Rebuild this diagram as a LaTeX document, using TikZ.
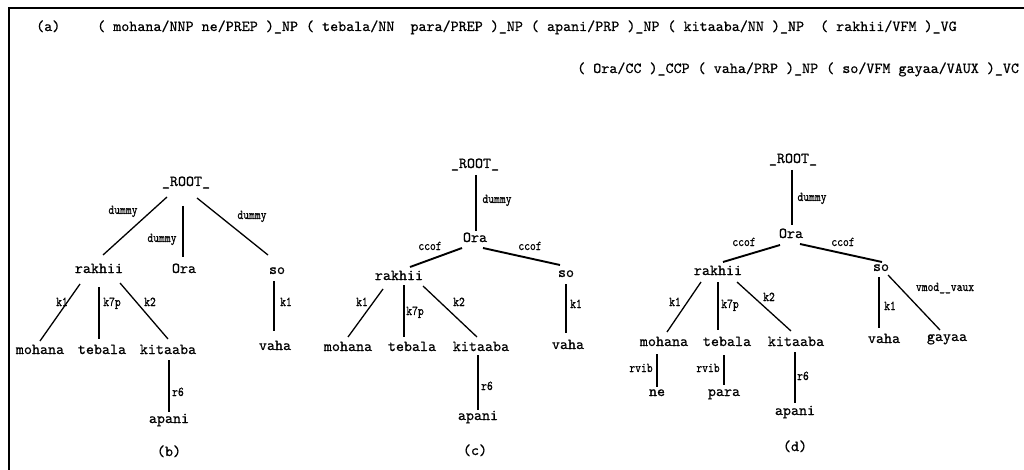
\documentclass[tikz,border=0pt]{standalone}
\usepackage{fontspec}
\newfontfamily\wordfont{lmmono10-regular.otf}[FakeBold=0.6]
\newfontfamily\labfont{lmmono10-regular.otf}[FakeBold=0.6, FakeStretch=0.82]
\usetikzlibrary{calc}
\tikzset{
  x=1pt, y=-1pt,
  word/.style={font=\fontsize{15.3}{16}\selectfont\wordfont, inner sep=0pt, text height=9pt, text depth=3pt},
  lab/.style={font=\fontsize{13.5}{14}\selectfont\labfont, inner sep=0pt, text height=8pt, text depth=2pt},
  edge/.style={line width=1.3pt},
  thick edge/.style={line width=1.9pt},
  frame/.style={line width=2.5pt}
}
\begin{document}
\begin{tikzpicture}
\useasboundingbox (0,0) rectangle (1024,470);
\clip (0,0) rectangle (1024,470);
\fill[white] (0,0) rectangle (1024,470);
\draw[frame] (9,472) -- (9,8) -- (1026,8);

% header (a)
\node[word, anchor=west] (capa) at (36,28) {(a)};
\node[word, anchor=west] (line1) at (97,28) {( mohana/NNP ne/PREP )\_NP ( tebala/NN~ para/PREP )\_NP ( apani/PRP )\_NP ( kitaaba/NN )\_NP~ ( rakhii/VFM )\_VG};
\node[word, anchor=west] (line2) at (577,70) {( Ora/CC )\_CCP ( vaha/PRP )\_NP ( so/VFM gayaa/VAUX )\_VC};

% ---------------- (b)
\node[word] (rootb) at (186,183) {\_ROOT\_};
\node[word] (rakb) at (99,270) {rakhii};
\node[word] (orab) at (184,270) {Ora};
\node[word] (sob) at (277,271) {so};
\node[word] (mohb) at (40,351) {mohana};
\node[word] (tebb) at (102,351) {tebala};
\node[word] (kitb) at (168,351) {kitaaba};
\node[word] (apab) at (169,420) {apani};
\node[word] (vahb) at (275,347) {vaha};
\node[word] (capb) at (169,453) {(b)};

\draw[edge] ($(rootb)+(-19,14)$) -- ($(rakb)+(4,-15)$);
\draw[edge] ($(rootb)+(-3,23)$) -- ($(orab)+(-1,-13)$);
\draw[edge] ($(rootb)+(11,15)$) -- ($(sob)+(-9,-16)$);
\draw[edge] ($(rakb)+(-19,14)$) -- ($(mohb)+(0,-10)$);
\draw[edge] ($(rakb)+(0,17)$) -- ($(tebb)+(-3,-12)$);
\draw[edge] ($(rakb)+(21,13)$) -- ($(kitb)+(0,-12)$);
\draw[edge] ($(kitb)+(1,9)$) -- ($(apab)+(0,-8)$);
\draw[edge] ($(sob)+(-3,10)$) -- ($(vahb)+(-1,-16)$);

\node[lab] (lb1) at (123,211) {dummy};
\node[lab] (lb2) at (162,239) {dummy};
\node[lab] (lb3) at (252,216) {dummy};
\node[lab] (lb4) at (62,303) {k1};
\node[lab] (lb5) at (112,303) {k7p};
\node[lab] (lb6) at (150,303) {k2};
\node[lab] (lb7) at (178,393) {r6};
\node[lab] (lb8) at (286,303) {k1};

% ---------------- (c)
\node[word] (rootc) at (475,165) {\_ROOT\_};
\node[word] (orac) at (475,239) {Ora};
\node[word] (rakc) at (399,277) {rakhii};
\node[word] (soc) at (566,274) {so};
\node[word] (mohc) at (348,348) {mohana};
\node[word] (tebc) at (412,348) {tebala};
\node[word] (kitc) at (481,348) {kitaaba};
\node[word] (apac) at (478,417) {apani};
\node[word] (vahc) at (568,346) {vaha};
\node[word] (capc) at (475,452) {(c)};

\draw[edge] ($(rootc)+(1,10)$) -- ($(orac)+(1,-8)$);
\draw[thick edge] ($(orac)+(-13,9)$) -- ($(rakc)+(11,-10)$);
\draw[thick edge] ($(orac)+(8,9)$) -- ($(soc)+(-6,-9)$);
\draw[edge] ($(rakc)+(-16,12)$) -- ($(mohc)+(0,-11)$);
\draw[edge] ($(rakc)+(5,8)$) -- ($(tebc)+(-8,-11)$);
\draw[edge] ($(rakc)+(24,9)$) -- ($(kitc)+(-4,-11)$);
\draw[edge] ($(kitc)+(-3,7)$) -- ($(apac)+(0,-7)$);
\draw[edge] ($(soc)+(0,10)$) -- ($(vahc)+(-2,-13)$);

\node[lab] (lc1) at (497,200) {dummy};
\node[lab] (lc2) at (430,247) {ccof};
\node[lab] (lc3) at (530,247) {ccof};
\node[lab] (lc4) at (362,303) {k1};
\node[lab] (lc5) at (415,312) {k7p};
\node[lab] (lc6) at (459,303) {k2};
\node[lab] (lc7) at (487,387) {r6};
\node[lab] (lc8) at (576,305) {k1};

% ---------------- (d)
\node[word] (rootd) at (793,160) {\_ROOT\_};
\node[word] (orad) at (791,235) {Ora};
\node[word] (rakd) at (718,272) {rakhii};
\node[word] (sod) at (881,268) {so};
\node[word] (mohd) at (664,343) {mohana};
\node[word] (tebd) at (727,343) {tebala};
\node[word] (kitd) at (796,343) {kitaaba};
\node[word] (ned) at (657,393) {ne};
\node[word] (parad) at (724,393) {para};
\node[word] (apad) at (795,412) {apani};
\node[word] (vahd) at (884,340) {vaha};
\node[word] (gayd) at (947,338) {gayaa};
\node[word] (capd) at (795,448) {(d)};

\draw[edge] ($(rootd)+(-1,10)$) -- ($(orad)+(1,-10)$);
\draw[thick edge] ($(orad)+(-11,10)$) -- ($(rakd)+(5,-10)$);
\draw[thick edge] ($(orad)+(9,9)$) -- ($(sod)+(1,-6)$);
\draw[edge] ($(rakd)+(-17,10)$) -- ($(mohd)+(3,-11)$);
\draw[edge] ($(rakd)+(0,10)$) -- ($(tebd)+(-9,-13)$);
\draw[edge] ($(rakd)+(19,10)$) -- ($(kitd)+(-5,-12)$);
\draw[edge] ($(mohd)+(-7,11)$) -- ($(ned)+(0,-6)$);
\draw[edge] ($(tebd)+(-3,12)$) -- ($(parad)+(0,-8)$);
\draw[edge] ($(kitd)+(-1,9)$) -- ($(apad)+(0,-9)$);
\draw[edge] ($(sod)+(-2,9)$) -- ($(vahd)+(-5,-12)$);
\draw[edge] ($(sod)+(7,7)$) -- ($(gayd)+(-7,-8)$);

\node[lab] (ld1) at (812,198) {dummy};
\node[lab] (ld2) at (744,243) {ccof};
\node[lab] (ld3) at (843,243) {ccof};
\node[lab] (ld4) at (675,303) {k1};
\node[lab] (ld5) at (730,305) {k7p};
\node[lab] (ld6) at (769,298) {k2};
\node[lab] (ld7) at (641,369) {rvib};
\node[lab] (ld8) at (708,369) {rvib};
\node[lab] (ld9) at (803,377) {r6};
\node[lab] (ld10) at (890,307) {k1};
\node[lab] (ld11) at (945,288) {vmod\_\_vaux};
\end{tikzpicture}
\end{document}
